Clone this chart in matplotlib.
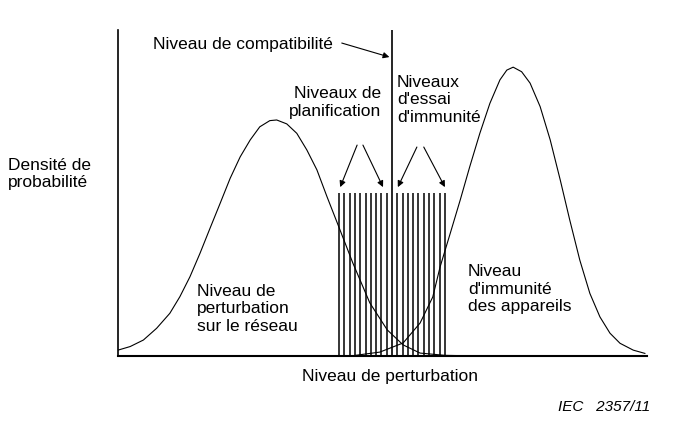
import matplotlib
matplotlib.use("Agg")
from matplotlib import pyplot as plt
import numpy as np

plt.rcParams['font.family'] = ['Liberation Sans', 'DejaVu Sans']

# disturbance level (0-100) vs probability density (0-100)
net_x = [0.0, 2.3, 4.8, 7.3, 9.8, 11.7, 13.6, 15.5, 17.4, 19.3, 21.2, 23.1, 25.0,
         26.8, 28.7, 30.0, 31.9, 33.8, 35.7, 37.6, 39.5, 41.6, 44.4, 47.6, 50.9,
         53.9, 57.1, 61.8, 68.4]
net_y = [1.8, 2.9, 4.9, 8.5, 13.1, 18.2, 24.3, 31.5, 39.2, 46.8, 54.5, 61.1, 66.3,
         70.3, 72.2, 72.4, 71.2, 68.3, 63.2, 57.1, 48.9, 40.2, 28.5, 16.3, 8.0,
         3.4, 0.9, 0.2, 0.0]

imm_x = [41.6, 44.4, 49.5, 53.9, 57.1, 59.5, 60.9, 62.8, 64.7, 66.5, 68.4, 70.3,
         72.2, 73.5, 74.7, 76.3, 77.9, 79.8, 81.7, 83.6, 85.4, 87.3, 89.2, 91.1,
         93.0, 94.9, 97.4, 99.6]
imm_y = [0.0, 0.1, 1.2, 4.0, 10.1, 18.1, 27.4, 37.6, 47.9, 58.1, 68.3, 77.5,
         84.7, 87.7, 88.6, 87.2, 83.7, 76.5, 66.3, 54.0, 41.7, 29.4, 19.2, 12.0,
         7.0, 3.9, 1.8, 0.8]

test_levels = [41.8, 42.8, 43.8, 44.8, 45.8, 46.8, 47.8, 48.8, 49.8, 50.8,
               52.8, 53.8, 54.8, 55.8, 56.8, 57.8, 58.8, 59.8, 60.8, 61.8]
test_top = 50.0
compat_level = 51.8

W, H = 678, 429
fig = plt.figure(figsize=(W / 100, H / 100), dpi=100)
ax = fig.add_axes([118 / W, (H - 356) / H, (647 - 118) / W, (356 - 30) / H])
ax.set_xlim(0, 100)
ax.set_ylim(0, 100)
for s in ["top", "right"]:
    ax.spines[s].set_visible(False)
ax.spines["left"].set_linewidth(1.2)
ax.spines["bottom"].set_linewidth(1.5)
ax.set_xticks([])
ax.set_yticks([])

ax.plot(net_x, net_y, color="black", lw=0.8, solid_joinstyle="round")
ax.plot(imm_x, imm_y, color="black", lw=0.8, solid_joinstyle="round")
ax.vlines(test_levels, 0, test_top, color="black", lw=1.1)
ax.vlines(compat_level, 0, 100, color="black", lw=1.2)

arr = dict(arrowstyle="-|>", color="black", lw=0.8, mutation_scale=9, shrinkA=0, shrinkB=0)
ax.annotate("", xy=(51.3, 91.7), xytext=(42.3, 96.0), arrowprops=arr)
ax.annotate("", xy=(42.0, 51.8), xytext=(45.2, 64.7), arrowprops=arr)
ax.annotate("", xy=(50.1, 51.8), xytext=(46.3, 64.7), arrowprops=arr)
ax.annotate("", xy=(52.9, 51.8), xytext=(56.5, 64.1), arrowprops=arr)
ax.annotate("", xy=(61.8, 51.8), xytext=(57.8, 64.1), arrowprops=arr)

fs = 12.5
def t(px, py, s, **kw):
    fig.text(px / W, 1 - py / H, s, fontsize=kw.pop("fontsize", fs), va="center", **kw)

t(153, 44, "Niveau de compatibilité")
t(381, 102.5, "Niveaux de\nplanification", ha="right", multialignment="right")
t(397, 100, "Niveaux\nd'essai\nd'immunité")
t(8, 174, "Densité de\nprobabilité")
t(197, 309, "Niveau de\nperturbation\nsur le réseau")
t(468, 289, "Niveau\nd'immunité\ndes appareils")
t(390, 376, "Niveau de perturbation", ha="center")
t(650, 407, "IEC   2357/11", ha="right", style="italic", fontsize=11)

fig.savefig("out.png", dpi=100)
